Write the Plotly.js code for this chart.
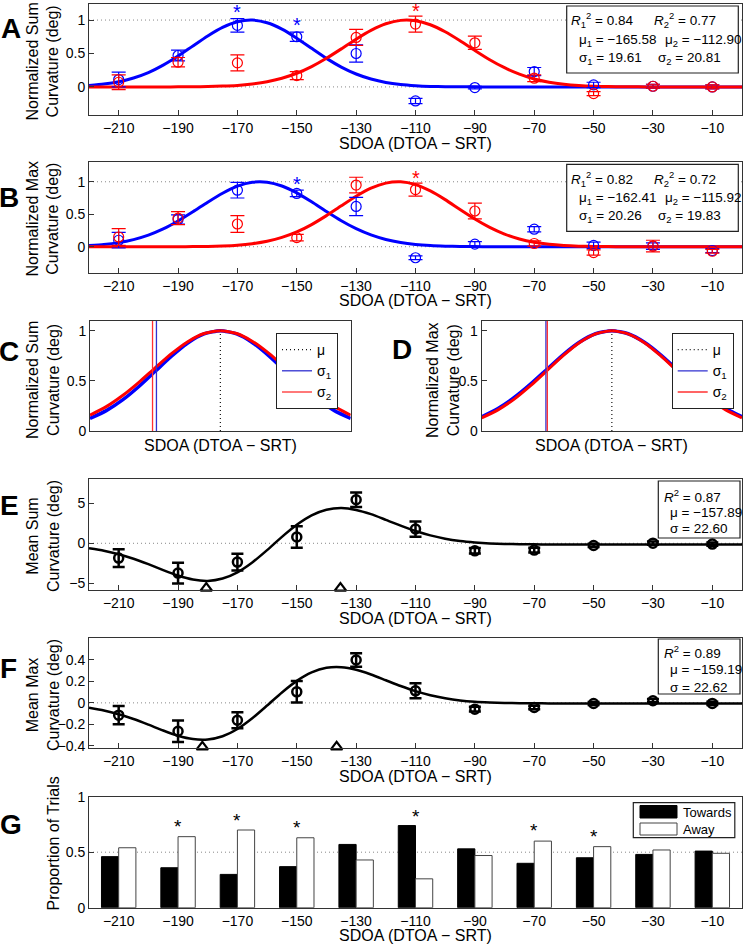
<!DOCTYPE html>
<html><head><meta charset="utf-8">
<script src="https://cdn.plot.ly/plotly-3.0.1.min.js"></script>
<style>body{margin:0;background:#fff}#chart{width:743px;height:946px}</style>
</head><body><div id="chart"></div>
<script>
// ---------------- data ----------------
const sdoa = [-210,-190,-170,-150,-130,-110,-90,-70,-50,-30,-10];

// Panel A (normalized sum curvature)
const aBlueMean = [0.11,0.47,0.92,0.75,0.50,-0.21,-0.01,0.23,0.03,0.01,0.00];
const aBlueErr  = [0.11,0.08,0.10,0.07,0.13,0.04,0.02,0.06,0.04,0.03,0.03];
const aRedMean  = [0.07,0.37,0.36,0.17,0.74,0.94,0.66,0.13,-0.10,0.01,0.00];
const aRedErr   = [0.11,0.07,0.12,0.06,0.12,0.12,0.10,0.05,0.03,0.03,0.03];
// Panel B (normalized max curvature)
const bBlueMean = [0.10,0.42,0.87,0.82,0.62,-0.17,0.04,0.27,0.02,0.01,-0.06];
const bBlueErr  = [0.12,0.07,0.12,0.05,0.14,0.03,0.04,0.04,0.05,0.05,0.03];
const bRedMean  = [0.15,0.44,0.35,0.14,0.95,0.88,0.55,0.05,-0.09,0.01,-0.07];
const bRedErr   = [0.13,0.10,0.13,0.05,0.12,0.10,0.12,0.04,0.04,0.09,0.03];

// fitted curves, every 5 deg
const fitX = [-220,-215,-210,-205,-200,-195,-190,-185,-180,-175,-170,-165,-160,-155,-150,-145,-140,-135,-130,-125,-120,-115,-110,-105,-100,-95,-90,-85,-80,-75,-70,-65,-60,-55,-50,-45,-40,-35,-30,-25,-20,-15,-10,-5,0];
const aBlueFit = [0.021,0.042,0.077,0.133,0.214,0.325,0.461,0.613,0.763,0.891,0.975,1.000,0.960,0.865,0.729,0.577,0.427,0.297,0.193,0.118,0.067,0.036,0.018,0.008,0.004,0.002,0.001,0,0,0,0,0,0,0,0,0,0,0,0,0,0,0,0,0,0];
const aRedFit  = [0,0,0,0,0,0,0.001,0.002,0.006,0.012,0.023,0.044,0.077,0.129,0.204,0.304,0.428,0.569,0.714,0.845,0.944,0.995,0.990,0.930,0.825,0.691,0.546,0.407,0.287,0.191,0.119,0.071,0.040,0.021,0.010,0.005,0.002,0.001,0,0,0,0,0,0,0];
const bBlueFit = [0.018,0.034,0.063,0.110,0.179,0.274,0.396,0.537,0.686,0.824,0.932,0.992,0.993,0.935,0.829,0.691,0.542,0.400,0.278,0.182,0.112,0.065,0.035,0.018,0.009,0.004,0.002,0.001,0,0,0,0,0,0,0,0,0,0,0,0,0,0,0,0,0];
const bRedFit  = [0,0,0,0,0,0,0.001,0.002,0.005,0.012,0.024,0.047,0.085,0.143,0.228,0.341,0.479,0.630,0.777,0.901,0.979,0.999,0.956,0.859,0.725,0.573,0.426,0.297,0.194,0.119,0.069,0.037,0.019,0.009,0.004,0.002,0.001,0,0,0,0,0,0,0,0];

// fit parameters shown in the text boxes
const aStats = {R1:'0.84', R2:'0.77', mu1:'−165.58', mu2:'−112.90', s1:'19.61', s2:'20.81'};
const bStats = {R1:'0.82', R2:'0.72', mu1:'−162.41', mu2:'−115.92', s1:'20.26', s2:'19.83'};

// asterisks
const aStarBlueX = [-170,-150], aStarBlueY = [1.20,1.00];
const aStarRedX = [-110], aStarRedY = [1.21];
const bStarBlueX = [-150], bStarBlueY = [1.05];
const bStarRedX = [-110], bStarRedY = [1.13];

// Panels C, D: centred curves
const cX = [-40,-35,-30,-25,-20,-15,-10,-5,0,5,10,15,20,25,30,35,40];
const cBlue = [0.125,0.203,0.310,0.444,0.595,0.746,0.878,0.968,1,0.968,0.878,0.746,0.595,0.444,0.310,0.203,0.125];
const cRed  = [0.158,0.243,0.354,0.486,0.630,0.771,0.891,0.972,1,0.972,0.891,0.771,0.630,0.486,0.354,0.243,0.158];
const dBlue = [0.142,0.225,0.334,0.467,0.614,0.760,0.885,0.970,1,0.970,0.885,0.760,0.614,0.467,0.334,0.225,0.142];
const dRed  = [0.131,0.211,0.318,0.452,0.601,0.751,0.881,0.969,1,0.969,0.881,0.751,0.601,0.452,0.318,0.211,0.131];
const cSigma = [19.61,20.81];
const dSigma = [20.26,19.83];

// Panel E (mean sum curvature)
const eMean = [-1.85,-3.73,-2.35,0.78,5.44,1.78,-0.94,-0.85,-0.27,0.02,-0.10];
const eErr  = [1.10,1.30,1.05,1.35,0.90,0.95,0.35,0.30,0.20,0.20,0.20];
const eFit  = [-0.62,-0.93,-1.36,-1.93,-2.61,-3.35,-4.03,-4.53,-4.70,-4.41,-3.63,-2.40,-0.85,0.80,2.31,3.49,4.19,4.40,4.17,3.64,2.93,2.20,1.53,0.99,0.57,0.28,0.10,-0.02,-0.08,-0.12,-0.135,-0.14,-0.15,-0.15,-0.15,-0.15,-0.15,-0.15,-0.15,-0.15,-0.15,-0.15,-0.15,-0.15,-0.15];
const eTriX = [-180.49,-135.29], eTriY = [-5.6,-5.6];
const eStats = {R:'0.87', mu:'−157.89', s:'22.60'};

// Panel F (mean max curvature)
const fMean = [-0.115,-0.265,-0.162,0.103,0.400,0.112,-0.059,-0.043,-0.006,0.020,-0.005];
const fErr  = [0.085,0.100,0.075,0.100,0.063,0.070,0.022,0.016,0.015,0.015,0.015];
const fFit  = [-0.046,-0.071,-0.106,-0.151,-0.203,-0.258,-0.307,-0.338,-0.342,-0.312,-0.244,-0.144,-0.025,0.097,0.205,0.284,0.327,0.333,0.309,0.265,0.211,0.157,0.109,0.071,0.043,0.023,0.011,0.004,-0.001,-0.003,-0.004,-0.005,-0.005,-0.005,-0.005,-0.005,-0.005,-0.005,-0.005,-0.005,-0.005,-0.005,-0.005,-0.005,-0.005];
const fTriX = [-181.81,-136.57], fTriY = [-0.41,-0.41];
const fStats = {R:'0.89', mu:'−159.19', s:'22.62'};

// Panel G (proportion of trials)
const gSeries = ['Towards','Away'];
const gTowards = [0.46,0.36,0.30,0.37,0.57,0.74,0.53,0.40,0.45,0.48,0.51];
const gAway    = [0.54,0.64,0.70,0.63,0.43,0.26,0.47,0.60,0.55,0.52,0.49];
const gStarX = [-190,-170,-150,-110,-70,-50];
const gStarY = [0.775,0.835,0.766,0.87,0.74,0.69];

// ---------------- layout helpers ----------------
const W = 743, H = 946;
const FONT = 'Liberation Sans, Arial, Helvetica, sans-serif';
const BLUE = '#0000ff', RED = '#ff0000';
const px = v => v / W, py = v => 1 - v / H;
const AX = '#333';

function xax(x0, x1, anchor, extra) {
  return Object.assign({domain:[px(x0), px(x1)], anchor:anchor, range:[-220,0], tickmode:'array', tickvals:sdoa,
    ticks:'inside', ticklen:5, tickcolor:AX, showline:true, linecolor:AX, linewidth:1, mirror:true,
    showgrid:false, zeroline:false, tickfont:{size:14, color:'#000', family:FONT}, fixedrange:true}, extra||{});
}
function yax(y0, y1, anchor, range, tv, extra) {
  return Object.assign({domain:[py(y1), py(y0)], anchor:anchor, range:range, tickmode:'array', tickvals:tv,
    ticks:'inside', ticklen:5, tickcolor:AX, showline:true, linecolor:AX, linewidth:1, mirror:true,
    showgrid:false, zeroline:false, tickfont:{size:14, color:'#000', family:FONT}, fixedrange:true}, extra||{});
}

const traces = [];
const annotations = [];
function curve(x, y, color, xa, ya, w) {
  traces.push({type:'scatter', mode:'lines', x:x, y:y, xaxis:xa, yaxis:ya, showlegend:false,
    line:{color:color, width:w||3, shape:'spline', smoothing:0.6}, hoverinfo:'skip'});
}
function points(y, err, color, xa, ya, ms, lw) {
  traces.push({type:'scatter', mode:'markers', x:sdoa, y:y, xaxis:xa, yaxis:ya, showlegend:false,
    marker:{symbol:'circle-open', size:ms, color:color, line:{color:color, width:lw}},
    error_y:{type:'data', array:err, visible:true, color:color, thickness:lw, width:ms > 9 ? 7 : 6}, cliponaxis:false});
}
function stars(x, y, color, xa, ya, size) {
  x.forEach((xv, i) => annotations.push({xref:xa, yref:ya, x:xv, y:y[i], text:'*', showarrow:false,
    xanchor:'center', yanchor:'middle', yshift:-5, font:{family:FONT, size:size||20, color:color}}));
}

// Panel A
curve(fitX, aBlueFit, BLUE, 'x', 'y');
curve(fitX, aRedFit, RED, 'x', 'y');
points(aBlueMean, aBlueErr, BLUE, 'x', 'y', 10, 1.2);
points(aRedMean, aRedErr, RED, 'x', 'y', 10, 1.2);
stars(aStarBlueX, aStarBlueY, BLUE, 'x', 'y');
stars(aStarRedX, aStarRedY, RED, 'x', 'y');
// Panel B
curve(fitX, bBlueFit, BLUE, 'x2', 'y2');
curve(fitX, bRedFit, RED, 'x2', 'y2');
points(bBlueMean, bBlueErr, BLUE, 'x2', 'y2', 10, 1.2);
points(bRedMean, bRedErr, RED, 'x2', 'y2', 10, 1.2);
stars(bStarBlueX, bStarBlueY, BLUE, 'x2', 'y2');
stars(bStarRedX, bStarRedY, RED, 'x2', 'y2');

// Panels C and D
function centred(xa, ya, blue, red, sig, leg) {
  curve(cX, blue, BLUE, xa, ya, 3.5);
  curve(cX, red, RED, xa, ya, 3);
  traces.push({type:'scatter', mode:'lines', x:[0,0], y:[0,1], xaxis:xa, yaxis:ya, name:'μ', legend:leg,
    line:{color:'#111', width:1.2, dash:'1px,3px'}});
  traces.push({type:'scatter', mode:'lines', x:[-sig[0],-sig[0]], y:[0,1.1], xaxis:xa, yaxis:ya, name:'σ<sub>1</sub>', legend:leg,
    line:{color:'#3030d0', width:1.3}});
  traces.push({type:'scatter', mode:'lines', x:[-sig[1],-sig[1]], y:[0,1.1], xaxis:xa, yaxis:ya, name:'σ<sub>2</sub>', legend:leg,
    line:{color:'#ff3030', width:1.3}});
}
centred('x3', 'y3', cBlue, cRed, cSigma, 'legend');
centred('x4', 'y4', dBlue, dRed, dSigma, 'legend2');

// Panel E
curve(fitX, eFit, '#000', 'x5', 'y5', 2.5);
points(eMean, eErr, '#000', 'x5', 'y5', 9, 2.5);
traces.push({type:'scatter', mode:'markers', x:eTriX, y:eTriY, xaxis:'x5', yaxis:'y5', showlegend:false, cliponaxis:false,
  marker:{symbol:'triangle-up-open', size:10, color:'#000', line:{color:'#000', width:2.2}}});
// Panel F
curve(fitX, fFit, '#000', 'x6', 'y6', 2.5);
points(fMean, fErr, '#000', 'x6', 'y6', 9, 2.5);
traces.push({type:'scatter', mode:'markers', x:fTriX, y:fTriY, xaxis:'x6', yaxis:'y6', showlegend:false, cliponaxis:false,
  marker:{symbol:'triangle-up-open', size:10, color:'#000', line:{color:'#000', width:2.2}}});

// Panel G
const gFill = ['#000', '#fff'], gLine = ['#000', '#444'];
traces.push({type:'bar', x:sdoa, y:gTowards, name:gSeries[0], xaxis:'x7', yaxis:'y7', showlegend:false,
  marker:{color:gFill[0], line:{color:gLine[0], width:1}}});
traces.push({type:'bar', x:sdoa, y:gAway, name:gSeries[1], xaxis:'x7', yaxis:'y7', showlegend:false,
  marker:{color:gFill[1], line:{color:gLine[1], width:1}}});
stars(gStarX, gStarY, '#000', 'x7', 'y7', 19);

// ---------------- annotations & shapes ----------------
function ann(text, x, y, o) {
  annotations.push(Object.assign({text:text, xref:'paper', yref:'paper', x:px(x), y:py(y), showarrow:false,
    xanchor:'center', yanchor:'middle', font:{family:FONT, size:16, color:'#000'}}, o||{}));
}
// panel letters
[['A',10.5,28],['B',9,197],['C',9,351],['D',402,349],['E',9,505],['F',8,668],['G',11,824]].forEach(l =>
  ann('<b>'+l[0]+'</b>', l[1], l[2], {font:{family:FONT, size:28, color:'#000'}}));
// x titles
const xt = 'SDOA (DTOA − SRT)';
[[415.5,143],[415.5,300],[220,445.7],[611.8,445.7],[415.5,618],[415.5,776.7],[415.5,935]].forEach(p => ann(xt, p[0], p[1]));
// y titles
ann('Normalized Sum<br>Curvature (deg)', 42.5, 62, {textangle:-90});
ann('Normalized Max<br>Curvature (deg)', 42.5, 219, {textangle:-90});
ann('Normalized Sum<br>Curvature (deg)', 43, 380, {textangle:-90});
ann('Normalized Max<br>Curvature (deg)', 443, 380, {textangle:-90});
ann('Mean Sum<br>Curvature (deg)', 43, 536, {textangle:-90});
ann('Mean Max<br>Curvature (deg)', 43, 695, {textangle:-90});
ann('Proportion of Trials', 53, 843.5, {textangle:-90});

// stats boxes
const shapes = [];
function rect(x0, y0, x1, y1, fill, lc, lw) {
  shapes.push({type:'rect', xref:'paper', yref:'paper', x0:px(x0), x1:px(x1), y0:py(y1), y1:py(y0),
    line:{color:lc||'#222', width:lw||1.2}, fillcolor:fill||'#fff', layer:'above'});
}
const bf = {family:FONT, size:13.5, color:'#000'};
function twoStats(s, top) {
  rect(566.7, top, 738.3, top + 67);
  ann('<i>R</i><sub>1</sub><sup>2</sup> = ' + s.R1, 569.3, top + 14.5, {xanchor:'left', font:bf});
  ann('<i>R</i><sub>2</sub><sup>2</sup> = ' + s.R2, 651.7, top + 14.5, {xanchor:'left', font:bf});
  ann('μ<sub>1</sub> = ' + s.mu1, 576.7, top + 34.5, {xanchor:'left', font:bf});
  ann('μ<sub>2</sub> = ' + s.mu2, 662.7, top + 34.5, {xanchor:'left', font:bf});
  ann('σ<sub>1</sub> = ' + s.s1, 576.7, top + 52, {xanchor:'left', font:bf});
  ann('σ<sub>2</sub> = ' + s.s2, 656, top + 52, {xanchor:'left', font:bf});
}
twoStats(aStats, 6);
twoStats(bStats, 164.3);
function oneStats(s, top, bottom, l1, l2, l3) {
  rect(658.3, top, 740, bottom);
  ann('<i>R</i><sup>2</sup> = ' + s.R, 661.7, l1, {xanchor:'left', font:bf});
  ann('μ = ' + s.mu, 668.3, l2, {xanchor:'left', font:bf});
  ann('σ = ' + s.s, 668.3, l3, {xanchor:'left', font:bf});
}
oneStats(eStats, 481, 538, 495.7, 512.7, 528.3);
oneStats(fStats, 639, 694, 652, 669.5, 687);

// legend of panel G (MATLAB-style wide swatches)
rect(633.3, 802.7, 734.8, 837.7, '#fff', '#222', 1.2);
rect(640, 805.5, 677, 818, gFill[0], gLine[0], 1);
rect(640, 823, 677, 835, gFill[1], gLine[1], 1);
ann(gSeries[0], 680.5, 812, {xanchor:'left', font:{family:FONT, size:13, color:'#000'}});
ann(gSeries[1], 680.5, 829, {xanchor:'left', font:{family:FONT, size:13, color:'#000'}});

// dotted reference lines
function hdot(xa, ya, yv, x0, x1) {
  shapes.push({type:'line', xref:xa, yref:ya, x0:x0, x1:x1, y0:yv, y1:yv, layer:'below',
    line:{color:'#888', width:1, dash:'1px,3px'}});
}
hdot('x','y',1,-220,0); hdot('x','y',0,-220,0);
hdot('x2','y2',1,-220,0); hdot('x2','y2',0,-220,0);
hdot('x5','y5',0,-220,0); hdot('x6','y6',0,-220,0); hdot('x7','y7',0.5,-220,0);

const legStyle = {xanchor:'left', yanchor:'top', bordercolor:'#222', borderwidth:1, bgcolor:'#fff',
  font:{family:FONT, size:14, color:'#000'}, itemwidth:30, tracegroupgap:0, itemclick:false, itemdoubleclick:false};

const layout = {
  width:W, height:H, margin:{l:0, r:0, t:0, b:0}, paper_bgcolor:'#fff', plot_bgcolor:'#fff',
  font:{family:FONT, color:'#000'}, showlegend:true, barmode:'group', bargap:0.42, bargroupgap:0,
  xaxis:  xax(89, 742, 'y'),
  yaxis:  yax(4, 115, 'x', [-0.42,1.24], [0,0.5,1]),
  xaxis2: xax(89, 742, 'y2'),
  yaxis2: yax(162.3, 272.7, 'x2', [-0.4,1.3], [0,0.5,1]),
  xaxis3: xax(90, 350.7, 'y3', {range:[-40,40], showticklabels:false, ticks:''}),
  yaxis3: yax(320.7, 431, 'x3', [0,1.1], [0,0.5,1]),
  xaxis4: xax(481.7, 742, 'y4', {range:[-40,40], showticklabels:false, ticks:''}),
  yaxis4: yax(320.7, 431, 'x4', [0,1.1], [0,0.5,1]),
  xaxis5: xax(89, 742, 'y5'),
  yaxis5: yax(479.3, 590, 'x5', [-5.84,8.0], [-5,0,5]),
  xaxis6: xax(89, 742, 'y6'),
  yaxis6: yax(637.7, 748.3, 'x6', [-0.424,0.608], [-0.4,-0.2,0,0.2,0.4]),
  xaxis7: xax(89, 742, 'y7', {ticks:''}),
  yaxis7: yax(796.7, 907.7, 'x7', [0,1], [0,0.5,1]),
  legend:  Object.assign({}, legStyle, {x:px(276), y:py(333)}),
  legend2: Object.assign({}, legStyle, {x:px(671.7), y:py(333)}),
  annotations:annotations, shapes:shapes
};

Plotly.newPlot('chart', traces, layout, {staticPlot:true, displayModeBar:false});
</script>
</body></html>
